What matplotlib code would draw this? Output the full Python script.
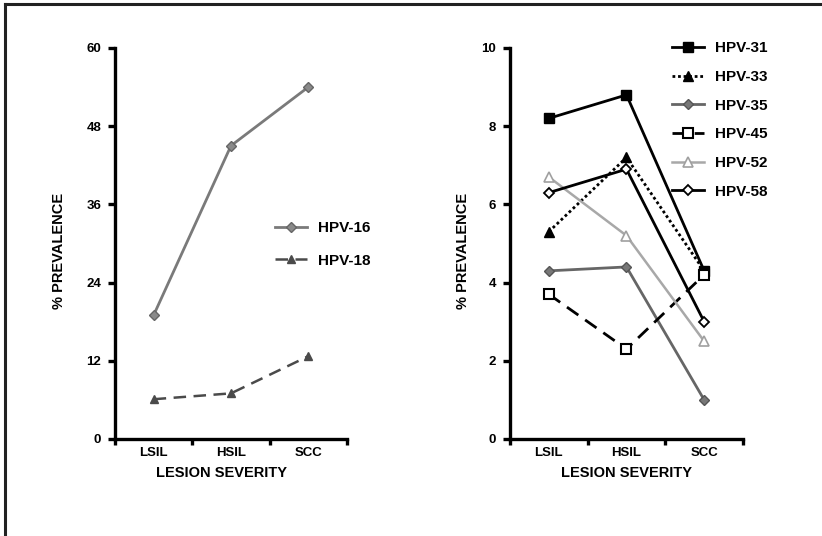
import matplotlib
matplotlib.use("Agg")
import matplotlib.pyplot as plt
from matplotlib.lines import Line2D

plt.rcParams['font.family'] = ['Liberation Sans', 'DejaVu Sans']
plt.rcParams['font.weight'] = 'bold'

categories = ['LSIL', 'HSIL', 'SCC']

# left panel
hpv16 = [19, 45, 54]
hpv18 = [6.1, 7.0, 12.7]

# right panel
hpv31 = [8.2, 8.8, 4.3]
hpv33 = [5.3, 7.2, 4.3]
hpv35 = [4.3, 4.4, 1.0]
hpv45 = [3.7, 2.3, 4.2]
hpv52 = [6.7, 5.2, 2.5]
hpv58 = [6.3, 6.9, 3.0]

left_ticks = [0, 12, 24, 36, 48, 60]
right_ticks = [0, 2, 4, 6, 8, 10]

fig = plt.figure(figsize=(8.22, 5.36), dpi=100)

# frame lines on top and left edge
fig.add_artist(Line2D([0.006, 0.006], [0, 0.993], transform=fig.transFigure, color='#222222', lw=2.2))
fig.add_artist(Line2D([0.006, 1.0], [0.993, 0.993], transform=fig.transFigure, color='#222222', lw=2.2))

ax1 = fig.add_axes([0.1399, 0.181, 0.2822, 0.7295])
ax2 = fig.add_axes([0.6204, 0.181, 0.2835, 0.7295])

xpos = [0.5, 1.5, 2.5]


def style_axis(ax, yticks, ymax):
    ax.set_xlim(0, 3)
    ax.set_ylim(0, ymax)
    for s in ['top', 'right']:
        ax.spines[s].set_visible(False)
    for s in ['left', 'bottom']:
        ax.spines[s].set_linewidth(2.4)
        ax.spines[s].set_color('black')
    ax.set_xticks([0, 1, 2, 3])
    ax.set_xticklabels([])
    ax.set_xticks(xpos, minor=True)
    ax.set_xticklabels(categories, minor=True, fontsize=9.5, fontweight='bold')
    ax.tick_params(axis='x', which='major', length=4, width=2.4, direction='out')
    ax.tick_params(axis='x', which='minor', length=0, pad=6)
    ax.set_yticks(yticks)
    ax.set_yticklabels([str(t) for t in yticks], fontsize=9.5, fontweight='bold')
    ax.tick_params(axis='y', length=5, width=2.4, pad=5)
    ax.set_xlabel('LESION SEVERITY', fontsize=10.5, fontweight='bold')
    ax.set_ylabel('% PREVALENCE', fontsize=10.5, fontweight='bold')


style_axis(ax1, left_ticks, 60)
style_axis(ax2, right_ticks, 10)
ax1.yaxis.set_label_coords(-0.211, 0.48)
ax2.yaxis.set_label_coords(-0.172, 0.48)
ax1.xaxis.set_label_coords(0.457, -0.07)
ax2.xaxis.set_label_coords(0.5, -0.07)

# left panel lines
ax1.plot(xpos, hpv16, color='#7a7a7a', lw=2.0, marker='D', ms=5.5, mfc='#8a8a8a', mec='#666666', label='HPV-16')
ax1.plot(xpos, hpv18, color='#4a4a4a', lw=1.8, ls=(0, (5, 3)), marker='^', ms=6, mfc='#4a4a4a', mec='#4a4a4a', label='HPV-18')

ax1.legend(loc='center left', bbox_to_anchor=(0.3345, 0.544), bbox_transform=fig.transFigure,
           frameon=False, handlelength=2.1, handletextpad=0.7, labelspacing=1.2,
           borderpad=0, borderaxespad=0, prop={'weight': 'bold', 'size': 11})

# right panel lines
ax2.plot(xpos, hpv31, color='black', lw=2.0, marker='s', ms=7, mfc='black', mec='black', label='HPV-31')
ax2.plot(xpos, hpv33, color='black', lw=2.0, ls=(0, (1, 1)), marker='^', ms=6.5, mfc='black', mec='black', label='HPV-33')
ax2.plot(xpos, hpv35, color='#666666', lw=2.0, marker='D', ms=5.5, mfc='#777777', mec='#555555', label='HPV-35')
ax2.plot(xpos, hpv45, color='black', lw=2.0, ls=(0, (5, 3)), marker='s', ms=7.5, mfc='white', mec='black', mew=1.5, label='HPV-45')
ax2.plot(xpos, hpv52, color='#a8a8a8', lw=1.8, marker='^', ms=7, mfc='white', mec='#a0a0a0', mew=1.2, label='HPV-52')
ax2.plot(xpos, hpv58, color='black', lw=2.0, marker='D', ms=5.5, mfc='white', mec='black', mew=1.3, label='HPV-58')

ax2.legend(loc='center left', bbox_to_anchor=(0.8175, 0.776), bbox_transform=fig.transFigure,
           frameon=False, handlelength=2.1, handletextpad=0.7, labelspacing=0.96,
           borderpad=0, borderaxespad=0, prop={'weight': 'bold', 'size': 11})

fig.savefig('out.png', dpi=100)
